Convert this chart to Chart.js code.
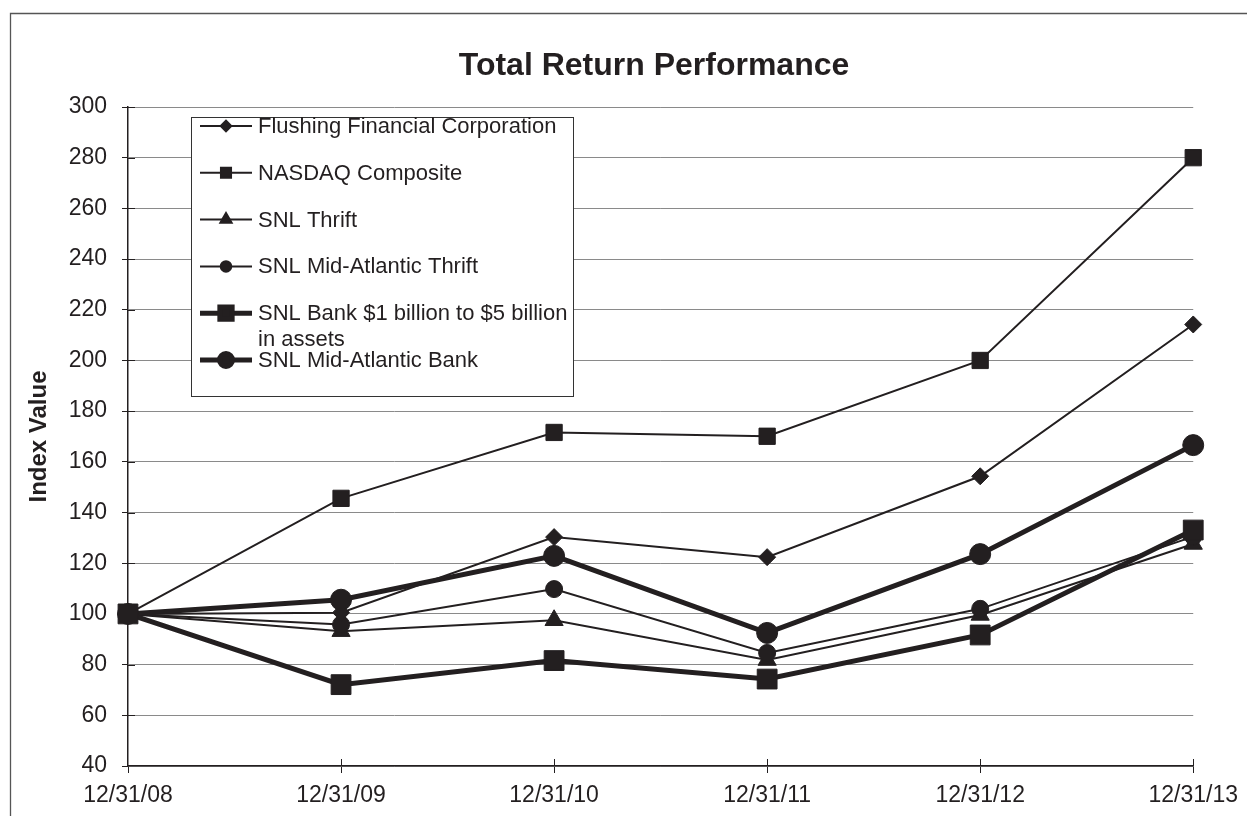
<!DOCTYPE html>
<html>
<head>
<meta charset="utf-8">
<title>Total Return Performance</title>
<script src="https://cdn.jsdelivr.net/npm/chart.js@4.4.0/dist/chart.umd.min.js"></script>
<style>
  html, body { margin: 0; padding: 0; background: #fff; }
  #perfChart { display: block; }
</style>
</head>
<body>
<canvas id="perfChart" width="1247" height="816"></canvas>
<script>
// Period end dates (x categories)
const periods = ['12/31/08', '12/31/09', '12/31/10', '12/31/11', '12/31/12', '12/31/13'];

// Index values
const flushingFinancial = [100, 100.5, 130.3, 122.4, 154.3, 214.2];
const nasdaqComposite   = [100, 145.6, 171.6, 170.1, 200.0, 280.0];
const snlThrift         = [100, 93.2, 97.5, 81.8, 99.6, 127.6];
const snlMidAtlThrift   = [100, 95.8, 109.8, 84.6, 102.0, 130.5];
const snlBank1to5       = [100, 72.1, 81.6, 74.3, 91.7, 133.1];
const snlMidAtlBank     = [100, 105.6, 122.9, 92.5, 123.6, 166.6];

const seriesLabels = [
    'Flushing Financial Corporation',
    'NASDAQ Composite',
    'SNL Thrift',
    'SNL Mid-Atlantic Thrift',
    'SNL Bank $1 billion to $5 billion\nin assets',
    'SNL Mid-Atlantic Bank'
];

// Y axis range
const yMin = 40;
const yMax = 300;
const yStep = 20;

const ink = '#231f20';
const fontFamily = '"Liberation Sans", Arial, Helvetica, sans-serif';

function makeSeries(label, data, style, radius, width, order) {
    return {
        label: label,
        data: data,
        borderColor: ink,
        backgroundColor: ink,
        pointBackgroundColor: ink,
        pointBorderColor: ink,
        pointBorderWidth: 1,
        borderWidth: width,
        pointStyle: style,
        pointRadius: radius,
        pointHoverRadius: radius,
        tension: 0,
        fill: false,
        order: order
    };
}

// Frame round the picture (top and left edge only are visible)
const framePlugin = {
    id: 'frame',
    afterLayout(chart) {
        // the original title sits centred over the whole framed page, not the plot
        chart.titleBlock.left = 61;
        chart.titleBlock.right = chart.width;
    },
    beforeDraw(chart) {
        const ctx = chart.ctx;
        ctx.save();
        ctx.strokeStyle = '#555';
        ctx.lineWidth = 1.3;
        ctx.beginPath();
        ctx.moveTo(10.5, chart.height);
        ctx.lineTo(10.5, 13.5);
        ctx.lineTo(chart.width, 13.5);
        ctx.stroke();
        ctx.restore();
    }
};

// Tick marks crossing the axes (inner half)
const crossTicksPlugin = {
    id: 'crossTicks',
    afterDraw(chart) {
        const ctx = chart.ctx;
        const xs = chart.scales.x;
        const ys = chart.scales.y;
        ctx.save();
        ctx.strokeStyle = ink;
        ctx.lineWidth = 1;
        ctx.beginPath();
        xs.ticks.forEach((t, i) => {
            if (i === 0) return;
            const px = Math.round(xs.getPixelForTick(i)) + 0.5;
            ctx.moveTo(px, ys.bottom);
            ctx.lineTo(px, ys.bottom - 7);
        });
        ys.ticks.forEach((t, i) => {
            if (i === 0) return;
            const py = Math.round(ys.getPixelForTick(i)) + 0.5;
            ctx.moveTo(xs.left, py);
            ctx.lineTo(xs.left + 7, py);
        });
        ctx.stroke();
        ctx.restore();
    }
};

// Boxed legend inside the plot, like the original
const boxLegendPlugin = {
    id: 'boxLegend',
    afterDraw(chart) {
        const ctx = chart.ctx;
        const box = { x: 191, y: 117, w: 382, h: 279 };
        ctx.save();
        ctx.fillStyle = '#fff';
        ctx.fillRect(box.x, box.y, box.w, box.h);
        ctx.strokeStyle = '#333';
        ctx.lineWidth = 1;
        ctx.strokeRect(box.x + 0.5, box.y + 0.5, box.w, box.h);

        const rowGap = 46.8;
        chart.data.datasets.forEach((ds, i) => {
            const y = box.y + 9 + i * rowGap;
            ctx.strokeStyle = ink;
            ctx.fillStyle = ink;
            ctx.lineWidth = ds.borderWidth;
            ctx.beginPath();
            ctx.moveTo(200, y);
            ctx.lineTo(252, y);
            ctx.stroke();
            Chart.helpers.drawPoint(ctx, {
                pointStyle: ds.pointStyle,
                radius: ds.pointRadius * 0.62,
                borderWidth: 1,
                rotation: 0
            }, 226, y);

            ctx.font = '22px ' + fontFamily;
            ctx.textAlign = 'left';
            ctx.textBaseline = 'middle';
            ds.label.split('\n').forEach((line, k) => {
                ctx.fillText(line, 258, y + 1 + k * 26);
            });
        });
        ctx.restore();
    }
};

const datasets = [
    makeSeries(seriesLabels[0], flushingFinancial, 'rectRot', 8.5, 2, 3),
    makeSeries(seriesLabels[1], nasdaqComposite, 'rect', 11.5, 2, 4),
    makeSeries(seriesLabels[2], snlThrift, 'triangle', 10.5, 2, 6),
    makeSeries(seriesLabels[3], snlMidAtlThrift, 'circle', 8.5, 2, 5),
    makeSeries(seriesLabels[4], snlBank1to5, 'rect', 14, 5, 1),
    makeSeries(seriesLabels[5], snlMidAtlBank, 'circle', 10.5, 5, 2)
];

const ctx = document.getElementById('perfChart').getContext('2d');
new Chart(ctx, {
    type: 'line',
    data: {
        labels: periods,
        datasets: datasets
    },
    options: {
        responsive: false,
        animation: false,
        devicePixelRatio: 1,
        layout: {
            padding: { left: 0, right: 52, top: 0, bottom: 0 }
        },
        plugins: {
            legend: { display: false },
            tooltip: { enabled: false },
            title: {
                display: true,
                text: 'Total Return Performance',
                color: ink,
                font: { family: fontFamily, size: 32, weight: 'bold' },
                padding: { top: 47, bottom: 21.6 }
            }
        },
        scales: {
            x: {
                offset: false,
                afterFit(scale) { scale.height = 50; },
                grid: {
                    drawOnChartArea: false,
                    drawTicks: true,
                    tickLength: 7,
                    tickColor: ink,
                    tickWidth: 1
                },
                border: { color: ink, width: 1.5 },
                ticks: {
                    color: ink,
                    padding: 9,
                    maxRotation: 0,
                    autoSkip: false,
                    font: { family: fontFamily, size: 23 }
                }
            },
            y: {
                min: yMin,
                max: yMax,
                afterFit(scale) { scale.width = 128; },
                grid: {
                    color: '#8a8a8a',
                    lineWidth: 1,
                    borderDash: [1, 1],
                    drawTicks: true,
                    tickLength: 6,
                    tickColor: ink,
                    tickBorderDash: [],
                    tickWidth: 1
                },
                border: { color: ink, width: 1.5 },
                ticks: {
                    stepSize: yStep,
                    color: ink,
                    padding: 15,
                    font: { family: fontFamily, size: 23 }
                },
                title: {
                    display: true,
                    text: 'Index Value',
                    color: ink,
                    font: { family: fontFamily, size: 24, weight: 'bold' },
                    padding: { top: 25, bottom: 0 }
                }
            }
        }
    },
    plugins: [framePlugin, crossTicksPlugin, boxLegendPlugin]
});
</script>
</body>
</html>
